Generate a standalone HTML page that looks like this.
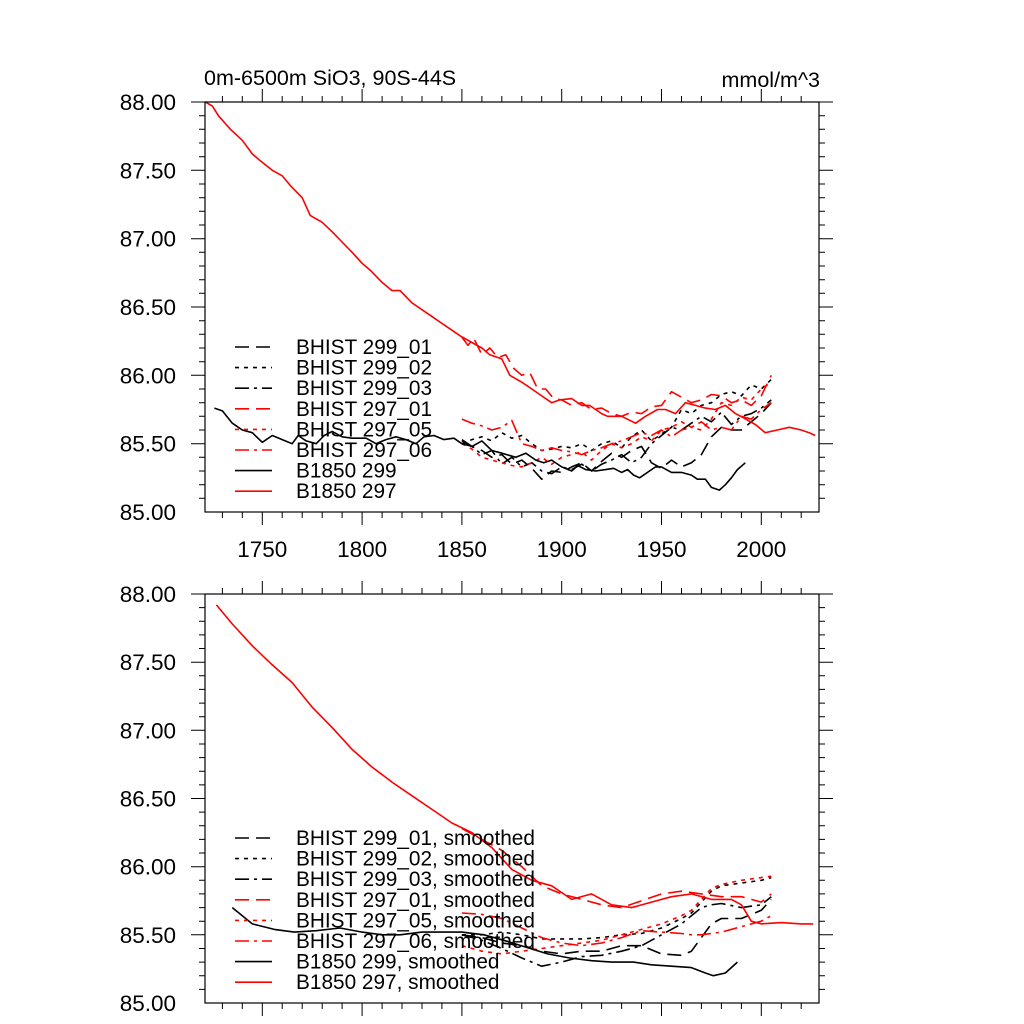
<!DOCTYPE html>
<html><head><meta charset="utf-8"><style>
html,body{margin:0;padding:0;background:#fff;}
svg{display:block;font-family:"Liberation Sans",Arial,sans-serif;}
</style></head><body>
<svg id="chart" width="1024" height="1024" viewBox="0 0 1024 1024">
<text x="204" y="85" font-size="21.5">0m-6500m SiO3, 90S-44S</text>
<text x="820" y="87" font-size="21.5" text-anchor="end">mmol/m^3</text>
</svg>
<script>
// ---- data (top panel, raw) ----
const yTickLabels = ["85.00","85.50","86.00","86.50","87.00","87.50","88.00"];
const yTickValues = [85,85.5,86,86.5,87,87.5,88];
const xTickLabels = ["1750","1800","1850","1900","1950","2000"];
const xTickValues = [1750,1800,1850,1900,1950,2000];

const b297Years = [1721.5,1725,1728,1734,1740,1745,1749,1755,1760,1764,1770,1774,1780,1785,1789,1795,1800,1804,1810,1815,1819,1825,1830,1834,1840,1845,1849,1855,1860,1864,1870,1874,1880,1885,1889,1895,1899,1905,1910,1914,1920,1923,1930,1937,1942,1948,1952,1957,1962,1967,1972,1977,1982,1987,1991,1997,2002,2008,2014,2020,2024,2027];
const b297Vals  = [88.0,87.97,87.9,87.8,87.72,87.62,87.57,87.5,87.46,87.39,87.3,87.17,87.12,87.05,86.99,86.9,86.82,86.77,86.68,86.62,86.62,86.53,86.48,86.44,86.38,86.33,86.29,86.24,86.2,86.15,86.12,86.0,85.95,85.9,85.86,85.8,85.82,85.83,85.78,85.78,85.72,85.7,85.7,85.65,85.7,85.75,85.75,85.72,85.8,85.78,85.76,85.75,85.78,85.72,85.69,85.64,85.58,85.6,85.62,85.6,85.58,85.56];

const b299Years = [1726,1730,1735,1740,1745,1750,1755,1760,1765,1768,1772,1777,1781,1785,1790,1795,1802,1807,1812,1817,1822,1827,1831,1836,1841,1846,1850,1855,1860,1865,1870,1877,1882,1887,1891,1895,1900,1905,1908,1912,1917,1922,1926,1930,1933,1936,1939,1944,1947,1950,1955,1960,1965,1968,1972,1975,1979,1982,1985,1988,1992];
const b299Vals  = [85.76,85.74,85.65,85.6,85.58,85.51,85.56,85.53,85.5,85.56,85.52,85.5,85.56,85.59,85.55,85.54,85.54,85.5,85.53,85.55,85.53,85.5,85.55,85.56,85.53,85.54,85.5,85.48,85.52,85.45,85.43,85.4,85.43,85.38,85.36,85.38,85.33,85.3,85.34,85.31,85.3,85.31,85.32,85.29,85.31,85.27,85.25,85.3,85.33,85.33,85.29,85.29,85.27,85.24,85.24,85.18,85.16,85.2,85.25,85.31,85.36];

const h29901Years = [1850,1855,1860,1865,1870,1875,1880,1885,1890,1895,1900,1905,1910,1915,1920,1925,1930,1935,1940,1945,1950,1955,1960,1965,1970,1975,1980,1985,1990,1995,2000,2005];
const h29901Vals  = [85.52,85.48,85.45,85.4,85.42,85.35,85.38,85.32,85.24,85.3,85.29,85.33,85.36,85.3,85.37,85.43,85.4,85.45,85.48,85.36,85.32,85.38,85.33,85.36,85.42,85.55,85.62,85.6,85.6,85.66,85.72,85.8];
const h29902Years = h29901Years;
const h29902Vals  = [85.5,85.53,85.55,85.52,85.58,85.54,85.56,85.5,85.45,85.46,85.48,85.47,85.5,85.45,85.5,85.52,85.47,85.55,85.6,85.52,85.57,85.62,85.75,85.72,85.78,85.8,85.86,85.88,85.85,85.93,85.9,85.97];
const h29903Years = h29901Years;
const h29903Vals  = [85.53,85.48,85.42,85.45,85.35,85.4,85.33,85.36,85.3,85.28,85.33,85.31,85.35,85.3,85.35,85.38,85.42,85.36,85.4,85.5,85.56,85.62,85.6,85.65,85.7,85.66,85.73,85.64,85.7,85.72,85.76,85.82];
const h29701Years = [1850,1853,1856,1860,1864,1868,1872,1876,1880,1884,1888,1892,1896,1900,1905,1910,1915,1920,1925,1930,1935,1940,1945,1950,1955,1960,1965,1970,1975,1980,1985,1990,1995,2000,2005];
const h29701Vals  = [86.28,86.22,86.27,86.15,86.2,86.13,86.15,86.05,86.0,86.02,85.9,85.9,85.83,85.82,85.78,85.8,85.75,85.76,85.72,85.7,85.73,85.72,85.77,85.78,85.88,85.84,85.8,85.82,85.86,85.85,85.8,85.82,85.78,85.85,86.0];
const h29705Years = h29901Years;
const h29705Vals  = [85.5,85.46,85.4,85.38,85.36,85.34,85.33,85.36,85.4,85.35,85.4,85.42,85.44,85.38,85.45,85.5,85.47,85.5,85.55,85.52,85.6,85.62,85.66,85.62,85.6,85.68,85.8,85.78,85.84,85.82,85.9,85.95];
const h29706Years = h29901Years;
const h29706Vals  = [85.68,85.65,85.63,85.6,85.62,85.67,85.5,85.48,85.45,85.47,85.45,85.44,85.42,85.45,85.47,85.5,85.52,85.55,85.58,85.56,85.6,85.55,85.6,85.62,85.66,85.6,85.62,85.6,85.7,85.68,85.75,85.8];

// ---- data (bottom panel, smoothed) ----
const s297Years = [1727,1735,1745,1755,1765,1775,1785,1795,1805,1815,1825,1835,1845,1855,1865,1875,1885,1895,1905,1915,1925,1935,1945,1955,1965,1975,1985,1990,1995,2000,2010,2020,2026];
const s297Vals  = [87.92,87.78,87.62,87.48,87.35,87.17,87.02,86.86,86.73,86.62,86.52,86.42,86.32,86.25,86.14,85.98,85.9,85.86,85.76,85.8,85.72,85.7,85.74,85.78,85.8,85.76,85.76,85.72,85.6,85.58,85.59,85.58,85.58];
const s299Years = [1735,1745,1756,1766,1777,1789,1800,1810,1819,1830,1840,1850,1861,1871,1882,1893,1904,1915,1925,1936,1945,1955,1965,1972,1976,1982,1988];
const s299Vals  = [85.7,85.58,85.54,85.52,85.53,85.55,85.52,85.5,85.5,85.52,85.52,85.52,85.5,85.46,85.41,85.36,85.33,85.31,85.3,85.3,85.28,85.27,85.26,85.22,85.2,85.22,85.3];
const sH29901Years = [1850,1860,1870,1880,1890,1900,1910,1920,1930,1940,1950,1960,1965,1970,1975,1980,1990,2000,2005];
const sH29901Vals  = [85.5,85.48,85.44,85.42,85.38,85.36,85.38,85.38,85.42,85.42,85.36,85.35,85.38,85.48,85.58,85.62,85.62,85.68,85.76];
const sH29902Years = sH29901Years;
const sH29902Vals  = [85.5,85.5,85.52,85.5,85.47,85.47,85.47,85.48,85.5,85.51,85.55,85.62,85.66,85.74,85.82,85.86,85.88,85.9,85.92];
const sH29903Years = sH29901Years;
const sH29903Vals  = [85.5,85.46,85.4,85.33,85.27,85.3,85.34,85.35,85.38,85.42,85.5,85.58,85.64,85.7,85.72,85.73,85.7,85.72,85.78];
const sH29701Years = [1850,1860,1870,1880,1890,1900,1910,1920,1930,1940,1950,1960,1970,1980,1990,2000,2005];
const sH29701Vals  = [86.28,86.2,86.12,86.0,85.86,85.8,85.76,85.72,85.7,85.75,85.8,85.82,85.8,85.78,85.78,85.74,85.8];
const sH29705Years = sH29901Years;
const sH29705Vals  = [85.42,85.38,85.36,85.38,85.4,85.42,85.44,85.46,85.5,85.54,85.58,85.64,85.68,85.76,85.84,85.87,85.9,85.92,85.93];
const sH29706Years = sH29901Years;
const sH29706Vals  = [85.66,85.65,85.62,85.55,85.48,85.44,85.42,85.44,85.48,85.53,85.52,85.51,85.5,85.5,85.51,85.52,85.56,85.6,85.64];

const legendTop = ["BHIST 299_01","BHIST 299_02","BHIST 299_03","BHIST 297_01","BHIST 297_05","BHIST 297_06","B1850 299","B1850 297"];
const legendBottom = ["BHIST 299_01, smoothed","BHIST 299_02, smoothed","BHIST 299_03, smoothed","BHIST 297_01, smoothed","BHIST 297_05, smoothed","BHIST 297_06, smoothed","B1850 299, smoothed","B1850 297, smoothed"];

const NS = "http://www.w3.org/2000/svg";
const svg = document.getElementById("chart");
const XMIN = 1721.3, XMAX = 2028.9, YMIN = 85, YMAX = 88;
const PL = 205, PR = 819;
const styles = [
  {c:"#000",d:"14 7"},{c:"#000",d:"4 5"},{c:"#000",d:"14 5 3 5"},
  {c:"#f00",d:"14 7"},{c:"#f00",d:"4 5"},{c:"#f00",d:"14 5 3 5"},
  {c:"#000",d:""},{c:"#f00",d:""}
];
function mk(tag, attrs){const e=document.createElementNS(NS,tag);for(const k in attrs)e.setAttribute(k,attrs[k]);return e;}

function panel(top, bottom, showXLabels, series, legend, legendY, name){
  const g = mk("g",{});
  
  
  svg.appendChild(g);
  const xs = v => PL + (v - XMIN) / (XMAX - XMIN) * (PR - PL);
  const ys = v => bottom - (v - YMIN) / (YMAX - YMIN) * (bottom - top);
  const sg = mk("g",{});
  
  
  g.appendChild(sg);
  series.forEach((s, i) => {
    const pts = s[0].map((yr, j) => xs(yr).toFixed(1) + "," + ys(s[1][j]).toFixed(1)).join(" ");
    const pl = mk("polyline",{points:pts,fill:"none",stroke:styles[i].c,"stroke-width":"1.6","stroke-dasharray":styles[i].d,"stroke-linejoin":"round"});
    
    
    sg.appendChild(pl);
  });
  const fr = mk("rect",{x:PL,y:top,width:PR-PL,height:bottom-top,fill:"none",stroke:"#000","stroke-width":"1.2"});
  
  
  g.appendChild(fr);
  let tp = "";
  for (let yr = 1730; yr <= XMAX; yr += 10) {
    const x = xs(yr).toFixed(1); const L = (yr % 50 === 0) ? 13 : 6;
    tp += `M${x},${top}v${-L}M${x},${bottom}v${L}`;
  }
  for (let v = 85.1; v < 88.05; v += 0.1) {
    const y = ys(v).toFixed(1); const major = Math.abs(v*2 - Math.round(v*2)) < 0.01; const L = major ? 14 : 6;
    tp += `M${PL},${y}h${-L}M${PR},${y}h${L}`;
  }
  const tk = mk("path",{d:tp,stroke:"#000","stroke-width":"1",fill:"none"});
  
  
  g.appendChild(tk);
  yTickValues.forEach((v, i) => {
    const t = mk("text",{x:176,y:(ys(v)+8).toFixed(1),"font-size":"22.5","text-anchor":"end"});
    t.textContent = yTickLabels[i];
    
    
    g.appendChild(t);
  });
  if (showXLabels) xTickValues.forEach((v, i) => {
    const t = mk("text",{x:xs(v).toFixed(1),y:bottom+45,"font-size":"22.5","text-anchor":"middle"});
    t.textContent = xTickLabels[i];
    
    
    g.appendChild(t);
  });
  legend.forEach((lab, i) => {
    const y = legendY + i * 20.6;
    const ln = mk("line",{x1:235,x2:272,y1:y,y2:y,stroke:styles[i].c,"stroke-width":"1.6","stroke-dasharray":styles[i].d});
    
    
    g.appendChild(ln);
    const t = mk("text",{x:296,y:y+7,"font-size":"20.8"});
    t.textContent = lab;
    
    
    g.appendChild(t);
  });
}

panel(102, 512, true, [
  [h29901Years,h29901Vals],[h29902Years,h29902Vals],[h29903Years,h29903Vals],
  [h29701Years,h29701Vals],[h29705Years,h29705Vals],[h29706Years,h29706Vals],
  [b299Years,b299Vals],[b297Years,b297Vals]
], legendTop, 347, "top-panel");

panel(594, 1003, false, [
  [sH29901Years,sH29901Vals],[sH29902Years,sH29902Vals],[sH29903Years,sH29903Vals],
  [sH29701Years,sH29701Vals],[sH29705Years,sH29705Vals],[sH29706Years,sH29706Vals],
  [s299Years,s299Vals],[s297Years,s297Vals]
], legendBottom, 838, "bottom-panel");
</script>
</body></html>
